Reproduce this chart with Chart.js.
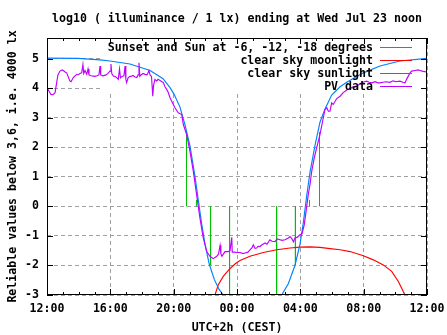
<!DOCTYPE html>
<html><head><meta charset="utf-8">
<script src="https://cdn.jsdelivr.net/npm/chart.js@4"></script>
<style>html,body{margin:0;padding:0;background:#fff}canvas{display:block}</style>
</head><body>
<canvas id="c" width="447" height="335"></canvas>
<script>
// ---- text ----
const titleText = 'log10 ( illuminance / 1 lx) ending at Wed Jul 23 noon';
const yAxisTitle = 'Reliable values below 3,6, i.e. 4000 lx';
const xAxisTitle = 'UTC+2h (CEST)';

// ---- axes (x = hours since 12:00 on Jul 22) ----
const xTickValues = [0, 4, 8, 12, 16, 20, 24];
const xTickLabels = ['12:00', '16:00', '20:00', '00:00', '04:00', '08:00', '12:00'];
const yTickValues = [-3, -2, -1, 0, 1, 2, 3, 4, 5];
const yTickLabels = ['-3', '-2', '-1', '0', '1', '2', '3', '4', '5'];

// ---- series ----
const seriesLabels = ['Sunset and Sun at -6, -12, -18 degrees', 'clear sky moonlight', 'clear sky sunlight', 'PV data'];
const seriesColors = ['#00c000', '#ff0000', '#0080ff', '#c000ff'];

// sunset / sun at -6,-12,-18 degrees (evening) and the same in the morning
const twilightHours  = [8.81, 9.44, 10.33, 11.53, 14.50, 15.69, 16.58, 17.21];
const twilightValues = [2.52, 0.22, -1.98, -3.00, -3.00, -1.98, 0.22, 2.52];

const moonHours  = [10.52, 10.61, 10.82, 11.13, 11.51, 11.87, 12.19, 12.82, 13.66, 14.51, 15.35, 15.98,
                    16.61, 17.24, 17.87, 18.51, 19.14, 19.98, 20.61, 21.24, 21.77, 22.19, 22.61, 22.74];
const moonValues = [-3.30, -3.00, -2.65, -2.37, -2.13, -1.95, -1.83, -1.69, -1.56, -1.47, -1.41, -1.38,
                    -1.37, -1.39, -1.43, -1.47, -1.53, -1.67, -1.81, -1.98, -2.20, -2.54, -3.00, -3.30];

const sunHours  = [0.00, 1.96, 3.35, 3.98, 5.24, 6.51, 7.33, 7.77, 8.02, 8.40, 8.72, 9.03, 9.35, 9.56, 9.77,
                   9.98, 10.25, 10.57, 10.86, 11.13, 11.43, 13.00,
                   14.53, 14.82, 15.24, 15.66, 15.98, 16.19, 16.40, 16.61, 16.93, 17.24, 17.56, 17.98,
                   18.51, 18.93, 19.98, 21.03, 22.29, 24.00];
const sunValues = [5.02, 5.01, 4.96, 4.92, 4.82, 4.60, 4.32, 4.02, 3.80, 3.36, 2.75, 2.05, 1.00, 0.20, -0.60,
                   -1.28, -1.96, -2.48, -2.80, -3.00, -3.30, null,
                   -3.30, -3.00, -2.62, -2.00, -1.28, -0.55, 0.35, 1.15, 2.07, 2.85, 3.30, 3.77,
                   4.05, 4.20, 4.52, 4.75, 4.92, 5.01];

const pvHours = [0.00, 0.13, 0.25, 0.38, 0.51, 0.61, 0.69, 0.82, 0.95, 1.03, 1.14, 1.24, 1.33, 1.45, 1.52,
  1.66, 1.77, 1.88, 1.96, 2.08, 2.19, 2.27, 2.32, 2.40, 2.51, 2.59, 2.65, 2.78, 2.92, 3.03, 3.16, 3.28,
  3.35, 3.39, 3.54, 3.73, 3.85, 3.98, 4.04, 4.09, 4.19, 4.29, 4.42, 4.50, 4.58, 4.64, 4.74, 4.86, 4.93,
  4.98, 5.03, 5.12, 5.24, 5.35, 5.43, 5.56, 5.67, 5.75, 5.81, 5.86, 5.94, 6.06, 6.19, 6.32, 6.44, 6.51,
  6.60, 6.68, 6.73, 6.82, 6.93, 7.01, 7.14, 7.26, 7.35, 7.45, 7.56, 7.64, 7.77, 7.98, 8.08, 8.29, 8.51,
  8.61, 8.82, 9.03, 9.24, 9.45, 9.66, 9.87, 10.09, 10.29, 10.50, 10.72, 10.83, 10.93, 10.98, 11.05, 11.24,
  11.45, 11.56, 11.67, 11.70, 11.87, 11.98, 12.19, 12.38, 12.51, 12.69, 12.82, 12.95, 13.03, 13.14, 13.24,
  13.33, 13.45, 13.58, 13.77, 13.89, 14.08, 14.21, 14.40, 14.53, 14.72, 14.84, 15.03, 15.22, 15.35, 15.47,
  15.57, 15.66, 15.79, 15.98, 16.11, 16.25, 16.36, 16.50, 16.61, 16.72, 16.88, 17.03, 17.24, 17.45, 17.56,
  17.67, 17.77, 17.87, 17.98, 18.08, 18.30, 18.51, 18.71, 18.95, 19.14, 19.33, 19.56, 19.77, 19.96, 20.19,
  20.34, 20.53, 20.72, 20.91, 21.03, 21.22, 21.41, 21.66, 21.85, 22.04, 22.29, 22.48, 22.61, 22.71, 22.82,
  22.93, 23.03, 23.24, 23.43, 23.56, 23.75, 24.00];
const pvValues = [4.02, 3.90, 3.79, 3.78, 3.85, 4.19, 4.45, 4.58, 4.62, 4.60, 4.55, 4.52, 4.40, 4.24, 4.22,
  4.36, 4.42, 4.47, 4.45, 4.50, 4.52, 4.80, 4.50, 4.60, 4.47, 4.65, 4.45, 4.42, 4.41, 4.40, 4.42, 4.45,
  4.75, 4.45, 4.42, 4.45, 4.50, 4.58, 4.82, 4.50, 4.41, 4.40, 4.35, 4.30, 4.65, 4.35, 4.40, 4.42, 4.75,
  4.30, 4.19, 4.35, 4.40, 4.41, 4.43, 4.38, 4.36, 4.45, 4.86, 4.40, 4.45, 4.50, 4.47, 4.45, 4.60, 4.45,
  4.40, 3.73, 4.10, 4.30, 4.24, 4.30, 4.26, 4.22, 4.19, 4.05, 3.96, 3.88, 3.68, 3.45, 3.34, 3.17, 3.11,
  2.77, 2.43, 1.86, 1.19, 0.40, -0.40, -1.07, -1.53, -1.69, -1.77, -1.69, -1.62, -1.32, -1.60, -1.69, -1.53,
  -1.53, -1.50, -1.05, -1.55, -1.55, -1.56, -1.56, -1.60, -1.58, -1.55, -1.47, -1.40, -1.30, -1.42, -1.41,
  -1.35, -1.36, -1.30, -1.24, -1.28, -1.13, -1.18, -1.19, -1.10, -1.13, -1.15, -1.13, -1.08, -1.02, -1.10,
  -1.20, -1.07, -1.05, -0.96, -0.92, -0.62, -0.17, 0.40, 0.74, 1.19, 1.64, 1.98, 2.43, 3.00, 3.28,
  3.34, 3.22, 3.22, 3.50, 3.45, 3.65, 3.73, 3.85, 3.95, 3.98, 4.05, 4.07, 4.15, 4.20, 4.24,
  4.20, 4.18, 4.22, 4.18, 4.18, 4.20, 4.22, 4.20, 4.25, 4.22, 4.24, 4.20, 4.18, 4.30, 4.41,
  4.52, 4.58, 4.60, 4.62, 4.60, 4.57, 4.55];

// ---- build point lists from the arrays ----
const pts = (hs, vs) => hs.map((h, i) => ({ x: h, y: vs[i] }));
const twilightPts = [];
twilightHours.forEach((h, i) => {
  twilightPts.push({ x: h, y: 0 }, { x: h, y: twilightValues[i] }, { x: h, y: null });
});

const FONT = { family: "'DejaVu Sans Mono', 'Liberation Mono', monospace", size: 11.6, weight: 'bold', lineHeight: '14px' };
Chart.defaults.color = '#000';
Chart.defaults.font = FONT;

const gnuplotLook = {
  id: 'gnuplotLook',
  beforeDatasetsDraw(chart) {
    const { ctx, chartArea: a } = chart;
    ctx.save();
    ctx.font = `bold ${FONT.size}px ${FONT.family}`;
    const w = Math.max(...seriesLabels.map(s => ctx.measureText(s).width));
    const textRight = a.right - 54;
    ctx.fillStyle = '#fff';
    ctx.fillRect(textRight - w - 7, a.top, a.right - (textRight - w - 7), 54);
    ctx.restore();
  },
  afterDatasetsDraw(chart) {
    const { ctx, chartArea: a } = chart;
    const textRight = a.right - 54;
    ctx.save();
    ctx.font = `bold ${FONT.size}px ${FONT.family}`;
    ctx.textAlign = 'right';
    ctx.textBaseline = 'middle';
    seriesLabels.forEach((lab, i) => {
      const yy = a.top + 10 + 13 * i;
      ctx.fillStyle = '#000';
      ctx.fillText(lab, textRight, yy);
      ctx.strokeStyle = seriesColors[i];
      ctx.lineWidth = 1;
      ctx.beginPath();
      ctx.moveTo(textRight + 7, Math.round(yy) - 0.5);
      ctx.lineTo(textRight + 39, Math.round(yy) - 0.5);
      ctx.stroke();
    });
    ctx.restore();
  },
  afterDraw(chart) {
    const { ctx, chartArea: a, scales: { x, y } } = chart;
    ctx.save();
    ctx.strokeStyle = '#000';
    ctx.lineWidth = 1;
    ctx.strokeRect(a.left + 0.5, a.top + 0.5, a.right - a.left - 1, a.bottom - a.top - 1);
    ctx.beginPath();
    for (let h = 0; h <= 24; h++) {
      const len = h % 4 === 0 ? 6 : 3;
      const px = Math.round(x.getPixelForValue(h)) + 0.5;
      ctx.moveTo(px, a.bottom); ctx.lineTo(px, a.bottom - len);
      ctx.moveTo(px, a.top); ctx.lineTo(px, a.top + len);
    }
    yTickValues.forEach(v => {
      const py = Math.round(y.getPixelForValue(v)) + 0.5;
      ctx.moveTo(a.left, py); ctx.lineTo(a.left + 6, py);
      ctx.moveTo(a.right, py); ctx.lineTo(a.right - 6, py);
    });
    ctx.stroke();
    ctx.restore();
  }
};

const gridStyle = { color: '#a0a0a0', lineWidth: 1, drawTicks: false };

new Chart(document.getElementById('c'), {
  type: 'line',
  data: {
    datasets: [
      { label: seriesLabels[0], data: twilightPts, borderColor: seriesColors[0], borderWidth: 1, order: 4 },
      { label: seriesLabels[1], data: pts(moonHours, moonValues), borderColor: seriesColors[1], order: 3 },
      { label: seriesLabels[2], data: pts(sunHours, sunValues), borderColor: seriesColors[2], order: 2 },
      { label: seriesLabels[3], data: pts(pvHours, pvValues), borderColor: seriesColors[3], order: 1 }
    ]
  },
  options: {
    responsive: false,
    animation: false,
    devicePixelRatio: 1,
    layout: { padding: { left: 0, right: 20, top: 0, bottom: 0 } },
    elements: {
      point: { radius: 0, hoverRadius: 0 },
      line: { borderWidth: 1.15, tension: 0, fill: false, spanGaps: false }
    },
    plugins: {
      legend: { display: false },
      tooltip: { enabled: false },
      title: {
        display: true, text: titleText, fullSize: false, color: '#000',
        font: FONT, padding: { top: 11.5, bottom: 12.5 }
      }
    },
    scales: {
      x: {
        type: 'linear', min: 0, max: 24,
        afterBuildTicks: s => { s.ticks = xTickValues.map(v => ({ value: v })); },
        afterFit: s => { s.height = 40; s.paddingLeft = 0; s.paddingRight = 0; },
        grid: gridStyle,
        border: { display: false, dash: [4, 3] },
        ticks: { autoSkip: false, maxRotation: 0, padding: 7, color: '#000', font: FONT,
                 callback: (v, i) => xTickLabels[i] },
        title: { display: true, text: xAxisTitle, color: '#000', font: FONT, padding: { top: 0, bottom: 0.5 } }
      },
      y: {
        type: 'linear', min: -3, max: 5.7,
        afterBuildTicks: s => { s.ticks = yTickValues.map(v => ({ value: v })); },
        afterFit: s => { s.width = 47; s.paddingTop = 0; s.paddingBottom = 0; },
        grid: gridStyle,
        border: { display: false, dash: [4, 3] },
        ticks: { padding: 8, color: '#000', font: FONT, callback: (v, i) => yTickLabels[i] },
        title: { display: true, text: yAxisTitle, color: '#000', font: FONT, padding: { top: 6.3, bottom: 0 } }
      }
    }
  },
  plugins: [gnuplotLook]
});
</script>
</body></html>
